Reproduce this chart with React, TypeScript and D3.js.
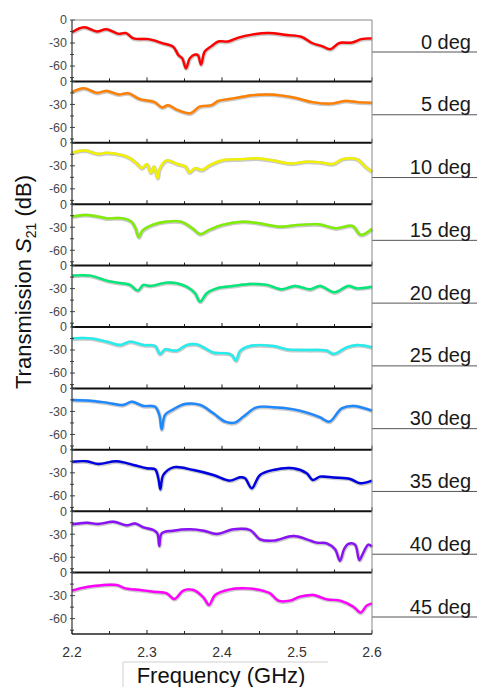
import React from 'react';
import * as d3 from 'd3';

type Pt = [number, number];

const angleLabels = ['0 deg', '5 deg', '10 deg', '15 deg', '20 deg', '25 deg', '30 deg', '35 deg', '40 deg', '45 deg'];
const lineColors = ['#ff0000', '#ff8000', '#f2f200', '#80ee00', '#00e87a', '#22eeee', '#1e88ff', '#0000e0', '#8a10f5', '#ff00ff'];
const xMajorTicks = [2.2, 2.3, 2.4, 2.5, 2.6];
const xMinorTicks = [2.25, 2.35, 2.45, 2.55];
const yMajorTicks = [0, -30, -60];
const yMinorTicks = [-15, -45, -75];

const s0: Pt[] = [
  [2.2, -16], [2.216, -9.5], [2.233, -15], [2.246, -12], [2.262, -18], [2.272, -17], [2.282, -24],
  [2.302, -25], [2.32, -30], [2.335, -35], [2.342, -46], [2.347, -50], [2.352, -63], [2.357, -50],
  [2.364, -45], [2.368, -46], [2.372, -58], [2.377, -41], [2.386, -34], [2.395, -28], [2.408, -28],
  [2.422, -23], [2.44, -19], [2.462, -17], [2.486, -19.5], [2.506, -22], [2.52, -30], [2.533, -34],
  [2.545, -38], [2.556, -30], [2.573, -29.5], [2.586, -25], [2.6, -24],
];
const s1: Pt[] = [
  [2.2, -14], [2.216, -9], [2.233, -15], [2.246, -12.5], [2.262, -17], [2.275, -15.5], [2.29, -23],
  [2.31, -27], [2.32, -34], [2.328, -31], [2.34, -37], [2.358, -41.5], [2.37, -33], [2.386, -31],
  [2.395, -25.5], [2.41, -23], [2.44, -18], [2.46, -17], [2.48, -18.5], [2.5, -22], [2.52, -27],
  [2.545, -29], [2.565, -25.5], [2.58, -27], [2.6, -28],
];
const s2: Pt[] = [
  [2.2, -13], [2.217, -10], [2.235, -14.6], [2.246, -13], [2.268, -16.3], [2.277, -20], [2.286, -26.7],
  [2.293, -33], [2.2996, -28], [2.305, -39], [2.309, -31], [2.314, -46], [2.3165, -34.5], [2.326, -23],
  [2.34, -27.6], [2.351, -31], [2.3565, -38.5], [2.364, -33], [2.373, -35.5], [2.384, -29], [2.402, -22.4],
  [2.424, -21.5], [2.446, -20.2], [2.468, -23], [2.491, -27], [2.513, -24.6], [2.531, -25.5], [2.548, -27.6],
  [2.56, -21.5], [2.58, -21.5], [2.591, -31], [2.6, -37.6],
];
const s3: Pt[] = [
  [2.2, -16.2], [2.217, -14], [2.235, -16.2], [2.246, -18.4], [2.268, -18.4], [2.279, -22.8], [2.2845, -31.4],
  [2.289, -43], [2.2938, -34.5], [2.3071, -27], [2.3249, -22.8], [2.3449, -22.8], [2.3604, -31.4], [2.3707, -39],
  [2.3827, -33.6], [2.4004, -27], [2.4271, -22.8], [2.4493, -24.9], [2.476, -29.3], [2.5027, -27], [2.5293, -26.2],
  [2.5516, -31.4], [2.5738, -28.4], [2.585, -40], [2.6, -32],
];
const s4: Pt[] = [
  [2.2, -13.1], [2.224, -13.1], [2.246, -19.6], [2.2596, -22.2], [2.2773, -25.2], [2.2876, -32.6], [2.2951, -25.2],
  [2.304, -26.5], [2.3262, -22.2], [2.3396, -23], [2.3529, -27.5], [2.364, -36], [2.3707, -47], [2.3796, -36],
  [2.3929, -29.6], [2.4151, -26.5], [2.4373, -24], [2.4596, -25.2], [2.4796, -30.9], [2.4973, -26.5], [2.5173, -30.9],
  [2.5307, -26.5], [2.5498, -34.8], [2.5684, -26.5], [2.5796, -29.6], [2.6, -27.5],
];
const s5: Pt[] = [
  [2.2, -14.8], [2.224, -14.8], [2.246, -19.1], [2.264, -23.5], [2.2773, -19.1], [2.2951, -23.5], [2.3107, -24.8],
  [2.3173, -35.2], [2.324, -29.1], [2.3307, -30], [2.3396, -30.8], [2.3529, -23.5], [2.3662, -22.6], [2.3751, -26.5],
  [2.3884, -33.4], [2.4062, -34.3], [2.4129, -36.5], [2.4187, -43.8], [2.424, -31.3], [2.4373, -24.8], [2.4684, -24.8],
  [2.4862, -29.1], [2.5129, -30], [2.5396, -30.8], [2.5484, -35.2], [2.5662, -26.5], [2.5796, -23.5], [2.6, -26.5],
];
const s6: Pt[] = [
  [2.2, -15.1], [2.224, -16], [2.246, -18.6], [2.2684, -21.6], [2.2796, -17.3], [2.2951, -22.9], [2.3107, -23.8],
  [2.3164, -34.6], [2.3196, -53.3], [2.324, -34.6], [2.3351, -27.3], [2.3507, -20.3], [2.3707, -21.6], [2.3884, -32.5],
  [2.404, -43.3], [2.4173, -44.6], [2.4284, -36.8], [2.4462, -24.6], [2.4684, -24.6], [2.4951, -27.3], [2.5129, -31.6],
  [2.5307, -37.7], [2.5431, -43.3], [2.5596, -26], [2.5751, -22.9], [2.6, -29],
];
const s7: Pt[] = [
  [2.2, -15.5], [2.2196, -15], [2.2351, -18.5], [2.2596, -15], [2.2818, -19.8], [2.2996, -24.1], [2.3107, -25.4],
  [2.3151, -37.1], [2.3178, -51.5], [2.3218, -32.8], [2.3351, -22.8], [2.3618, -26.3], [2.3884, -32.8], [2.4107, -40.2],
  [2.424, -35.8], [2.4307, -37], [2.4396, -50.2], [2.4507, -32.8], [2.4684, -26.3], [2.4951, -24.1], [2.5129, -30.6],
  [2.5209, -39.3], [2.5307, -35], [2.5484, -36.1], [2.5707, -38], [2.584, -43.6], [2.6, -40.2],
];
const s8: Pt[] = [
  [2.2, -17.1], [2.2196, -15], [2.2351, -16.7], [2.2551, -13.7], [2.2729, -18.4], [2.284, -16], [2.2951, -21],
  [2.3084, -24.5], [2.3138, -28.8], [2.3164, -45.3], [2.3196, -28.8], [2.3351, -25.4], [2.3573, -23.6], [2.3751, -25.4],
  [2.3929, -29.7], [2.4151, -23.6], [2.4373, -24.5], [2.4507, -36.6], [2.4684, -38.4], [2.4951, -32.3], [2.5129, -36.6],
  [2.5262, -41], [2.5396, -41.8], [2.5507, -49.6], [2.5573, -64.5], [2.5627, -49.6], [2.5684, -42.7], [2.5773, -43.6],
  [2.5831, -63.6], [2.5876, -55.8], [2.5951, -43.6], [2.6, -46.2],
];
const s9: Pt[] = [
  [2.2, -23.5], [2.2107, -20.5], [2.2284, -17.5], [2.2596, -16.2], [2.2707, -20.5], [2.2907, -22.7], [2.3084, -24.9],
  [2.3262, -27], [2.3364, -34.4], [2.3484, -23.5], [2.3618, -22.7], [2.3751, -32.2], [2.3827, -42.2], [2.3907, -29.2],
  [2.4107, -21.8], [2.4329, -20.5], [2.4507, -22.7], [2.464, -27], [2.4751, -36.6], [2.4907, -36.6], [2.504, -31.4],
  [2.5218, -29.2], [2.5396, -34.8], [2.5573, -36.6], [2.575, -44.4], [2.5849, -52.2], [2.5929, -43], [2.6, -40],
];
const seriesList: Pt[][] = [s0, s1, s2, s3, s4, s5, s6, s7, s8, s9];

const W = 477;
const H = 687;
const plotLeft = 72;
const plotRight = 372;
const plotTop = 20;
const plotBottom = 634;
const nPanels = seriesList.length;
const panelH = (plotBottom - plotTop) / nPanels;
const font = '"Liberation Sans", Arial, sans-serif';

const x = d3.scaleLinear().domain([2.2, 2.6]).range([plotLeft, plotRight]);
const labelLineY = d3.scaleLinear().domain([0, nPanels - 1]).range([52, 617]);

export default function App() {
  return (
    <svg width={W} height={H} style={{ position: 'absolute', left: 0, top: 0, background: '#fff' }} fontFamily={font}>
      <rect x={0} y={0} width={W} height={H} fill="#fff" />
      {seriesList.map((data, i) => {
        const top = plotTop + i * panelH;
        const y = d3.scaleLinear().domain([-80, 0]).range([top + panelH, top]);
        const line = d3.line<Pt>().x(d => x(d[0])).y(d => y(d[1])).curve(d3.curveCatmullRom.alpha(0.5));
        const path = line(data) || '';
        const bottom = top + panelH;
        return (
          <g key={i}>
            <path d={path} fill="none" stroke="#b4b4b4" strokeWidth={4} strokeLinejoin="round" opacity={0.7} transform="translate(0.4,0.6)" />
            <path d={path} fill="none" stroke={lineColors[i]} strokeWidth={2.4} strokeLinejoin="round" />
            {xMajorTicks.map(t => (
              <line key={'xM' + t} x1={x(t)} x2={x(t)} y1={bottom} y2={bottom - 4} stroke="#222" strokeWidth={1} />
            ))}
            {xMinorTicks.map(t => (
              <line key={'xm' + t} x1={x(t)} x2={x(t)} y1={bottom} y2={bottom - 3} stroke="#222" strokeWidth={1} />
            ))}
            {yMajorTicks.map(t => (
              <g key={'yM' + t}>
                <line x1={plotLeft - 2} x2={plotLeft + 3} y1={y(t)} y2={y(t)} stroke="#444" strokeWidth={1} />
                <text x={67} y={y(t)} dy="0.35em" textAnchor="end" fontSize={12.5} fill="#4a4a4a">{t === 0 ? '0' : '-' + Math.abs(t)}</text>
              </g>
            ))}
            {yMinorTicks.map(t => (
              <line key={'ym' + t} x1={plotLeft - 2} x2={plotLeft + 2} y1={y(t)} y2={y(t)} stroke="#444" strokeWidth={1} />
            ))}
            {i < nPanels - 1 && (
              <line x1={plotLeft} x2={plotRight} y1={bottom} y2={bottom} stroke="#111" strokeWidth={2} />
            )}
            <line x1={plotRight} x2={W} y1={labelLineY(i)} y2={labelLineY(i)} stroke="#555" strokeWidth={1} />
            <text x={471} y={labelLineY(i) - 3.5} textAnchor="end" fontSize={20} fill="#1a1a1a">{angleLabels[i]}</text>
          </g>
        );
      })}
      <line x1={plotLeft} x2={plotRight} y1={plotTop} y2={plotTop} stroke="#888" strokeWidth={1} />
      <line x1={plotRight} x2={plotRight} y1={plotTop} y2={plotBottom} stroke="#888" strokeWidth={1} />
      <line x1={plotLeft} x2={plotLeft} y1={plotTop} y2={plotBottom} stroke="#333" strokeWidth={1.2} />
      <line x1={plotLeft} x2={plotRight} y1={plotBottom} y2={plotBottom} stroke="#222" strokeWidth={1.5} />
      {xMajorTicks.map(t => (
        <text key={'xl' + t} x={x(t)} y={657} textAnchor="middle" fontSize={14} fill="#333">{t.toFixed(1)}</text>
      ))}
      <line x1={123} x2={328} y1={662} y2={662} stroke="#d0d0d0" strokeWidth={1} />
      <line x1={123} x2={123} y1={662} y2={H} stroke="#d0d0d0" strokeWidth={1} />
      <text x={221} y={683} textAnchor="middle" fontSize={22} fill="#111">Frequency (GHz)</text>
      <text transform="translate(31,282) rotate(-90)" textAnchor="middle" fontSize={22} fill="#111">
        Transmission <tspan fontStyle="italic">S</tspan><tspan fontSize={14} dy={5}>21</tspan><tspan dy={-5}> (dB)</tspan>
      </text>
    </svg>
  );
}
